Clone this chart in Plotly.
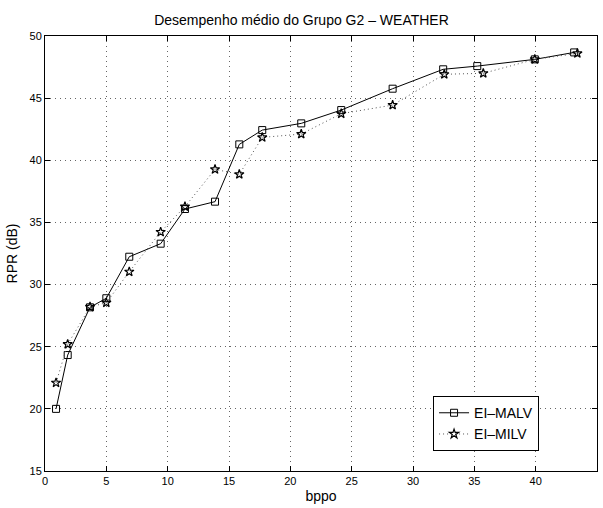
import plotly.graph_objects as go

x_malv = [0.9, 1.85, 3.67, 5.0, 6.87, 9.43, 11.41, 13.86, 15.84, 17.71, 20.89, 24.15, 28.34, 32.46, 35.24, 39.93, 43.14]
y_malv = [20.0, 24.33, 28.17, 28.9, 32.24, 33.29, 36.08, 36.67, 41.28, 42.43, 42.97, 44.04, 45.76, 47.32, 47.58, 48.12, 48.68]

x_milv = [0.9, 1.85, 3.67, 5.0, 6.87, 9.43, 11.41, 13.86, 15.84, 17.71, 20.89, 24.15, 28.34, 32.55, 35.73, 39.93, 43.4]
y_milv = [22.1, 25.2, 28.2, 28.54, 31.03, 34.23, 36.27, 39.27, 38.87, 41.84, 42.11, 43.75, 44.44, 46.92, 47.0, 48.12, 48.6]

x_ticks = [0, 5, 10, 15, 20, 25, 30, 35, 40, 45]
y_ticks = [15, 20, 25, 30, 35, 40, 45, 50]

font = "Liberation Sans, Arial, sans-serif"

fig = go.Figure()
fig.add_trace(go.Scatter(
    x=x_malv, y=y_malv, mode="lines+markers", name="EI\u2013MALV",
    line=dict(color="black", width=1),
    marker=dict(symbol="square-open", size=7, color="black", line=dict(width=1))))
fig.add_trace(go.Scatter(
    x=x_milv, y=y_milv, mode="lines+markers", name="EI\u2013MILV",
    line=dict(color="#555", width=1, dash="1px,3px"),
    marker=dict(symbol="star-open", size=7, color="black", line=dict(width=1.2))))

axis_common = dict(
    showline=True, linecolor="black", linewidth=1, mirror="ticks",
    ticks="inside", ticklen=5, tickcolor="black",
    showgrid=True, gridcolor="#666", griddash="1px,4px", gridwidth=1,
    zeroline=False, tickfont=dict(family=font, size=11, color="black"),
)

fig.update_layout(
    width=603, height=508,
    margin=dict(l=45, r=6, t=36, b=37),
    paper_bgcolor="white", plot_bgcolor="white",
    title=dict(text="Desempenho médio do Grupo G2 \u2013 WEATHER", x=0.5, xanchor="center",
               y=1 - 20 / 508, yanchor="middle",
               font=dict(family=font, size=14, color="black")),
    xaxis=dict(range=[0, 45], tickvals=x_ticks, ticktext=[str(v) for v in x_ticks],
               title=dict(text="bppo", font=dict(family=font, size=14, color="black"), standoff=4),
               **axis_common),
    yaxis=dict(range=[15, 50], tickvals=y_ticks, ticktext=[str(v) for v in y_ticks],
               title=dict(text="RPR (dB)", font=dict(family=font, size=14, color="black"), standoff=8),
               **axis_common),
    legend=dict(x=0.703, y=0.172, xanchor="left", yanchor="top",
                bordercolor="black", borderwidth=1, bgcolor="white",
                font=dict(family=font, size=14, color="black"),
                tracegroupgap=0, itemwidth=30),
    showlegend=True,
)

fig.write_html("out.html")
